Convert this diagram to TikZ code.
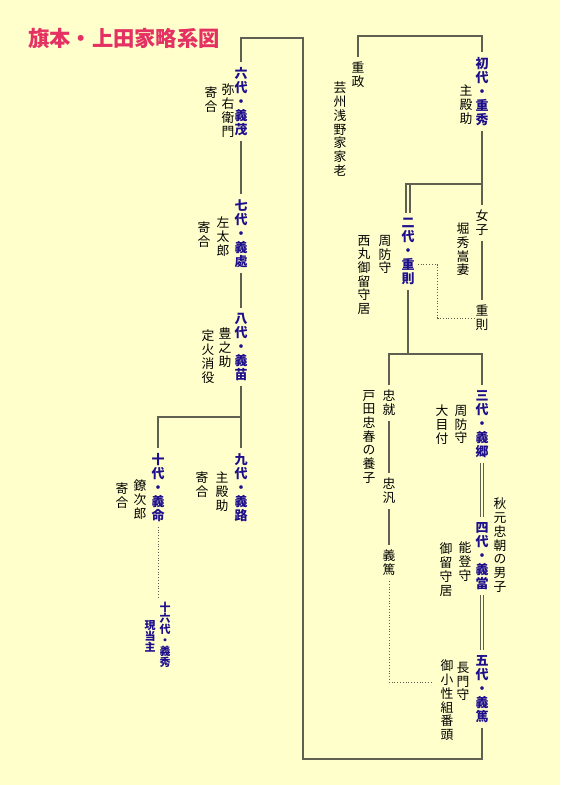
\documentclass[tikz,border=0pt]{standalone}
\usepackage{fontspec}
\setmainfont{Noto Sans CJK JP}
\usepackage{xcolor}
\usepackage{tikz}
\usetikzlibrary{calc}

\definecolor{paper}{RGB}{255,255,204}
\definecolor{ink}{RGB}{30,15,140}
\definecolor{rule}{RGB}{95,95,82}
\definecolor{titlered}{RGB}{228,48,98}

\tikzset{
  heir/.style={anchor=north,inner xsep=1pt,inner ysep=5pt,align=center,text=ink,
    font=\fontsize{13}{14}\selectfont\bfseries},
  heirsm/.style={heir,font=\fontsize{11}{11}\selectfont\bfseries},
  note/.style={anchor=north,inner xsep=1pt,inner ysep=5pt,align=center,
    font=\fontsize{12.8}{13.7}\selectfont},
  link/.style={draw=rule,line width=1.3pt},
  dotline/.style={draw=rule,line width=0.8pt,dotted},
  dbl/.style={draw=rule,double=paper,double distance=1.6pt,line width=0.8pt}
}

\begin{document}
\begin{tikzpicture}[x=1pt,y=-1pt]
  \fill[paper] (0,0) rectangle (560,785);
  \useasboundingbox (0,0) rectangle (560,785);
  \node[anchor=west,inner sep=0pt,text=titlered,font=\fontsize{21.3}{21.3}\selectfont\bfseries] (title) at (28,38) {旗本・上田家略系図};

  % junction rows and the long left column
  \coordinate (r0) at (0,36);
  \coordinate (r1) at (0,184);
  \coordinate (r2) at (0,354);
  \coordinate (r3) at (0,417);
  \coordinate (rt) at (0,38);
  \coordinate (rb) at (0,759);
  \coordinate (cx) at (303,0);

  % heads of the house
  \node[heir] (g1) at (482,52) {初\\代\\・\\重\\秀};
  \node[heir] (g2) at (408,213) {二\\代\\・\\重\\則};
  \node[heir] (g3) at (482,385) {三\\代\\・\\義\\郷};
  \node[heir] (g4) at (482,517) {四\\代\\・\\義\\當};
  \node[heir] (g5) at (482,650) {五\\代\\・\\義\\篤};
  \node[heir] (g6) at (241,62) {六\\代\\・\\義\\茂};
  \node[heir] (g7) at (241,194) {七\\代\\・\\義\\處};
  \node[heir] (g8) at (241,308) {八\\代\\・\\義\\苗};
  \node[heir] (g9) at (241,448) {九\\代\\・\\義\\路};
  \node[heir] (g10) at (158,448) {十\\代\\・\\義\\命};
  \node[heirsm] (g16) at (165,597) {十\\六\\代\\・\\義\\秀};
  \node[heirsm] (hd) at (150,615) {現\\当\\主};

  % other members and offices
  \node[note] (zm) at (358,57) {重\\政};
  \node[note] (zk) at (340,77) {芸\\州\\浅\\野\\家\\家\\老};
  \node[note] (n1) at (466,80) {主\\殿\\助};
  \node[note] (nz) at (482,205) {女\\子};
  \node[note] (nh) at (463,218) {堀\\秀\\嵩\\妻};
  \node[note] (nb) at (482,300) {重\\則};
  \node[note] (n2a) at (385,230) {周\\防\\守};
  \node[note] (n2b) at (364,230) {西\\丸\\御\\留\\守\\居};
  \node[note] (tc) at (389,385) {忠\\就};
  \node[note] (tt) at (369,385) {戸\\田\\忠\\春\\の\\養\\子};
  \node[note] (tf) at (389,473) {忠\\汎};
  \node[note] (ya) at (389,545) {義\\篤};
  \node[note] (n3a) at (461,400) {周\\防\\守};
  \node[note] (n3b) at (442,400) {大\\目\\付};
  \node[note] (ak) at (500,493) {秋\\元\\忠\\朝\\の\\男\\子};
  \node[note] (n4a) at (465,537) {能\\登\\守};
  \node[note] (n4b) at (446,538) {御\\留\\守\\居};
  \node[note] (n5a) at (463,657) {長\\門\\守};
  \node[note] (n5b) at (447,655) {御\\小\\性\\組\\番\\頭};
  \node[note] (n6a) at (228,79) {弥\\右\\衛\\門};
  \node[note] (n6b) at (211,82) {寄\\合};
  \node[note] (n7a) at (223,212) {左\\太\\郎};
  \node[note] (n7b) at (204,217) {寄\\合};
  \node[note] (n8a) at (225,323) {豊\\之\\助};
  \node[note] (n8b) at (208,325) {定\\火\\消\\役};
  \node[note] (n9a) at (222,467) {主\\殿\\助};
  \node[note] (n9b) at (202,467) {寄\\合};
  \node[note] (n10a) at (140,475) {鐐\\次\\郎};
  \node[note] (n10b) at (122,478) {寄\\合};

  % right-hand branch
  \draw[link] (zm.north) |- (r0 -| g1.north) -- (g1.north);
  \draw[link] (g1.south) -- (nz.north);
  \draw[link] (nz.south) -- (nb.north);
  \draw[link] (g1.south |- r1) -| ([xshift=-2pt]g2.north);
  \draw[link] ([xshift=2pt]g2.north) -- ([xshift=2pt]g2.north |- r1);
  \draw[dotline] ($(g2.east)+(2,13)$) -- ++(20,0) |- (nb.west);
  \draw[link] (g2.south) -- (g2.south |- r2);
  \draw[link] (tc.north) |- (r2 -| g3.north) -- (g3.north);
  \draw[link] (tc.south) -- (tf.north);
  \draw[link] (tf.south) -- (ya.north);
  \coordinate (dend) at (432,682);
  \draw[dotline] (ya.south) |- (dend);
  \draw[dbl] (g3.south) -- (g4.north);
  \draw[dbl] (g4.south) -- (g5.north);

  % long return to the left-hand column
  \draw[link] (g5.south) |- (cx |- rb) -- (cx |- rt) -| (g6.north);

  % left-hand branch
  \draw[link] (g6.south) -- (g7.north);
  \draw[link] (g7.south) -- (g8.north);
  \draw[link] (g8.south) -- (g9.north);
  \draw[link] (g9.north |- r3) -| (g10.north);
  \draw[dotline] (g10.south) -- (g10.south |- g16.north);
\end{tikzpicture}
\end{document}
